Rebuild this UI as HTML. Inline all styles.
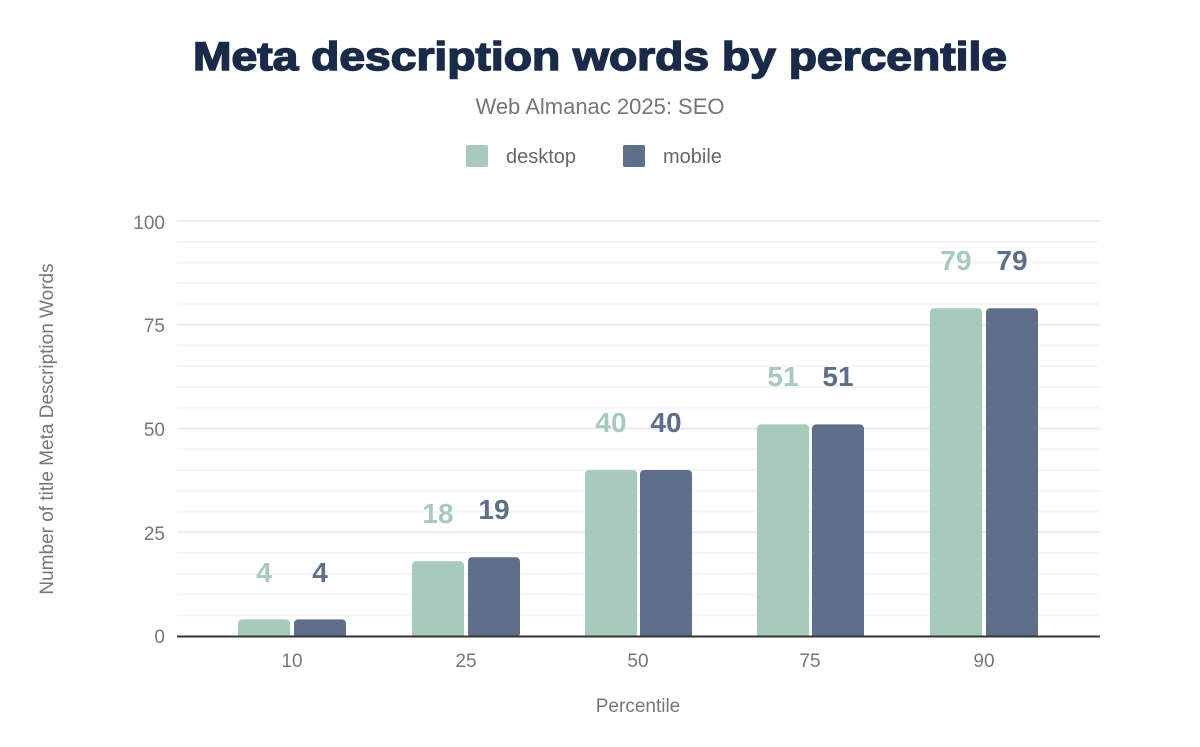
<!DOCTYPE html>
<html><head><meta charset="utf-8"><style>
body{margin:0;background:#fff;}
svg text{font-family:"Liberation Sans",sans-serif;}
</style></head><body>
<svg width="1200" height="742" xmlns="http://www.w3.org/2000/svg">
<rect width="1200" height="742" fill="#fff"/>
<text x="600" y="70" text-anchor="middle" font-size="40" font-weight="bold" fill="#1a2b49" stroke="#1a2b49" stroke-width="1.5" textLength="814" lengthAdjust="spacingAndGlyphs">Meta description words by percentile</text>
<text x="600" y="114" text-anchor="middle" font-size="22" fill="#757575">Web Almanac 2025: SEO</text>
<rect x="466" y="145" width="22" height="22" rx="2" fill="#a8cabb"/>
<text x="506" y="163" font-size="20" fill="#666">desktop</text>
<rect x="623" y="145" width="22" height="22" rx="2" fill="#5f6f89"/>
<text x="663" y="163" font-size="20" fill="#666">mobile</text>
<g stroke-width="2">
<line x1="177" x2="1100" y1="221" y2="221" stroke="#ebebeb"/>
<line x1="177" x2="1100" y1="241.75" y2="241.75" stroke="#f5f5f5"/>
<line x1="177" x2="1100" y1="262.5" y2="262.5" stroke="#f5f5f5"/>
<line x1="177" x2="1100" y1="283.25" y2="283.25" stroke="#f5f5f5"/>
<line x1="177" x2="1100" y1="304" y2="304" stroke="#f5f5f5"/>
<line x1="177" x2="1100" y1="324.75" y2="324.75" stroke="#ebebeb"/>
<line x1="177" x2="1100" y1="345.5" y2="345.5" stroke="#f5f5f5"/>
<line x1="177" x2="1100" y1="366.25" y2="366.25" stroke="#f5f5f5"/>
<line x1="177" x2="1100" y1="387" y2="387" stroke="#f5f5f5"/>
<line x1="177" x2="1100" y1="407.75" y2="407.75" stroke="#f5f5f5"/>
<line x1="177" x2="1100" y1="428.5" y2="428.5" stroke="#ebebeb"/>
<line x1="177" x2="1100" y1="449.25" y2="449.25" stroke="#f5f5f5"/>
<line x1="177" x2="1100" y1="470" y2="470" stroke="#f5f5f5"/>
<line x1="177" x2="1100" y1="490.75" y2="490.75" stroke="#f5f5f5"/>
<line x1="177" x2="1100" y1="511.5" y2="511.5" stroke="#f5f5f5"/>
<line x1="177" x2="1100" y1="532.25" y2="532.25" stroke="#ebebeb"/>
<line x1="177" x2="1100" y1="553" y2="553" stroke="#f5f5f5"/>
<line x1="177" x2="1100" y1="573.75" y2="573.75" stroke="#f5f5f5"/>
<line x1="177" x2="1100" y1="594.5" y2="594.5" stroke="#f5f5f5"/>
<line x1="177" x2="1100" y1="615.25" y2="615.25" stroke="#f5f5f5"/>
</g>
<g fill="#777" font-size="19" text-anchor="end">
<text x="165" y="643">0</text><text x="165" y="540">25</text><text x="165" y="436">50</text><text x="165" y="332">75</text><text x="165" y="229">100</text>
</g>
<text transform="translate(53,429) rotate(-90)" text-anchor="middle" font-size="19" fill="#777">Number of title Meta Description Words</text>
<text x="638" y="712" text-anchor="middle" font-size="19" fill="#777">Percentile</text>
<g>
<rect x="238" y="619.4" width="52" height="20" rx="4" fill="#a8cabb"/>
<rect x="294" y="619.4" width="52" height="20" rx="4" fill="#5f6f89"/>
<rect x="412" y="561.3" width="52" height="80" rx="4" fill="#a8cabb"/>
<rect x="468" y="557.2" width="52" height="80" rx="4" fill="#5f6f89"/>
<rect x="585" y="470" width="52" height="170" rx="4" fill="#a8cabb"/>
<rect x="640" y="470" width="52" height="170" rx="4" fill="#5f6f89"/>
<rect x="757" y="424.4" width="52" height="215" rx="4" fill="#a8cabb"/>
<rect x="812" y="424.4" width="52" height="215" rx="4" fill="#5f6f89"/>
<rect x="930" y="308.2" width="52" height="330" rx="4" fill="#a8cabb"/>
<rect x="986" y="308.2" width="52" height="330" rx="4" fill="#5f6f89"/>
</g>
<rect x="170" y="637" width="940" height="10" fill="#fff"/>
<g font-size="28" font-weight="bold" text-anchor="middle">
<text x="264" y="582" fill="#a8cabb">4</text><text x="320" y="582" fill="#5f6f89">4</text>
<text x="438" y="523" fill="#a8cabb">18</text><text x="494" y="519" fill="#5f6f89">19</text>
<text x="611" y="432" fill="#a8cabb">40</text><text x="666" y="432" fill="#5f6f89">40</text>
<text x="783" y="386" fill="#a8cabb">51</text><text x="838" y="386" fill="#5f6f89">51</text>
<text x="956" y="270" fill="#a8cabb">79</text><text x="1012" y="270" fill="#5f6f89">79</text>
</g>
<line x1="177" y1="636.5" x2="1100" y2="636.5" stroke="#333" stroke-width="2"/>
<g fill="#777" font-size="19" text-anchor="middle">
<text x="292" y="667">10</text><text x="466" y="667">25</text><text x="638" y="667">50</text><text x="810" y="667">75</text><text x="984" y="667">90</text>
</g>
</svg>
</body></html>
